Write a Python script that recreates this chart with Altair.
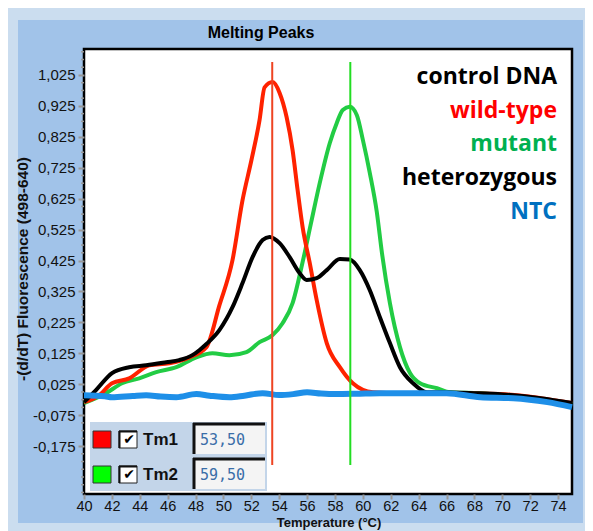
import altair as alt
import pandas as pd
import numpy as np

# ---------------- data ----------------
wt_t = [40.0, 41.08, 42.01, 43.24, 44.68, 46.12, 47.55, 48.78, 49.71, 50.65, 51.37, 52.01, 52.59, 52.95,
        53.53, 54.03, 54.53, 54.96, 55.32, 55.68, 56.19, 56.69, 57.41, 58.35, 59.28, 60.72, 62.66, 66.26,
        69.86, 72.73, 75.0]
wt_v = [-0.033, -0.011, 0.028, 0.044, 0.086, 0.093, 0.112, 0.145, 0.28, 0.426, 0.62, 0.75, 0.879, 0.985,
        1.002, 0.967, 0.889, 0.782, 0.653, 0.533, 0.417, 0.297, 0.158, 0.08, 0.028, -0.001, -0.004, -0.004,
        -0.007, -0.02, -0.036]

mut_t = [40.0, 41.58, 42.73, 43.96, 45.18, 46.62, 48.06, 49.21, 50.43, 51.65, 52.59, 53.53, 54.24, 54.96,
         55.68, 56.3, 56.91, 57.63, 58.13, 58.56, 59.06, 59.57, 60.0, 60.5, 61.0, 61.37, 61.94, 62.66, 63.38,
         64.1, 65.32, 66.26, 68.42, 70.5, 72.73, 75.0]
mut_v = [-0.036, -0.004, 0.028, 0.044, 0.064, 0.08, 0.112, 0.125, 0.119, 0.129, 0.161, 0.184, 0.222, 0.287,
         0.42, 0.55, 0.676, 0.805, 0.87, 0.912, 0.922, 0.895, 0.815, 0.708, 0.582, 0.449, 0.287, 0.145, 0.061,
         0.028, 0.012, -0.001, -0.004, -0.012, -0.022, -0.04]

het_t = [40.0, 40.86, 42.01, 43.24, 44.46, 45.9, 46.83, 47.77, 48.27, 48.78, 49.71, 50.65, 51.37, 52.09,
         52.81, 53.31, 54.03, 54.75, 55.47, 55.97, 56.69, 57.41, 58.35, 59.06, 59.78, 60.5, 61.22, 61.94,
         62.66, 63.6, 64.6, 65.54, 68.0, 70.0, 72.73, 75.0]
het_v = [-0.033, 0.006, 0.061, 0.08, 0.086, 0.096, 0.103, 0.119, 0.135, 0.155, 0.2, 0.274, 0.352, 0.436,
         0.491, 0.501, 0.481, 0.436, 0.384, 0.362, 0.368, 0.394, 0.43, 0.428, 0.394, 0.329, 0.242, 0.158,
         0.08, 0.028, -0.001, -0.001, -0.004, -0.008, -0.02, -0.036]

ntc_t = [40.0, 41.5, 42.0, 43.5, 44.46, 45.5, 46.62, 48.06, 49.0, 50.43, 51.5, 52.81, 54.0, 55.0, 56.0,
         57.0, 58.0, 59.5, 61.22, 63.6, 66.0, 68.42, 70.79, 73.24, 75.0]
ntc_v = [-0.011, -0.014, -0.017, -0.013, -0.011, -0.015, -0.017, -0.007, -0.012, -0.017, -0.012, -0.004,
         -0.01, -0.007, -0.001, -0.005, -0.007, -0.006, -0.004, -0.004, -0.004, -0.017, -0.02, -0.033, -0.049]

tm_names = ["Tm1", "Tm2"]
tm_labels = ["53,50", "59,50"]
tm_lines = [53.5, 59.1]
tm_colors = ["#EE4422", "#22DD22"]
tm_swatch = ["#FF0000", "#00FF00"]

sample_labels = ["control DNA", "wild-type", "mutant", "heterozygous", "NTC"]
sample_colors = ["#000000", "#FF0000", "#00B050", "#000000", "#0070C0"]

x_ticks = list(range(40, 75, 2))
y_ticks = [round(-0.175 + 0.1 * i, 3) for i in range(13)]
y_minor = [round(-0.325 + 0.025 * i, 3) for i in range(58)]
y_minor = [v for v in y_minor if v not in y_ticks and v <= 1.1]

# ---------------- layout ----------------
W, H = 488, 445
xs = alt.Scale(domain=[40, 75], nice=False, zero=False)
ys = alt.Scale(domain=[-0.330, 1.109], nice=False, zero=False)

common_axis = dict(title=None, grid=False, domain=False, tickColor="#999999", tickWidth=2,
                   labelFont="Liberation Sans", labelColor="#111111", zindex=1,
                   labelFlush=False, labelOverlap=False)
xaxis = alt.Axis(values=x_ticks, tickSize=5, labelPadding=0, labelFontSize=14.5, **common_axis)
yaxis = alt.Axis(values=y_ticks, tickSize=6, labelPadding=3, labelFontSize=15,
                 labelExpr="replace(replace(format(datum.value, '.3f'), '.', ','), '\u2212', '-')",
                 **common_axis)

one = pd.DataFrame({"d": [0]})


def prect(x1, x2, y1, y2, **style):
    return alt.Chart(one).mark_rect(**style).encode(
        x=alt.value(x1), x2=alt.value(x2), y=alt.value(y1), y2=alt.value(y2))


def prule(x1, x2, y1, y2, **style):
    return alt.Chart(one).mark_rule(**style).encode(
        x=alt.value(x1), x2=alt.value(x2), y=alt.value(y1), y2=alt.value(y2))


def ptext(txt, x, y, **style):
    return alt.Chart(one).mark_text(text=txt, **style).encode(x=alt.value(x), y=alt.value(y))


layers = []
# inner blue panel and white plotting area
layers.append(prect(-66, 499, -29, 474, color="#A1C3E9"))
layers.append(prect(0, W, 0, H, fill="white", stroke="#000000", strokeWidth=2.5))

# curves
series = [
    (mut_t, mut_v, "#22CC44", 4),
    (wt_t, wt_v, "#FF2200", 4),
    (het_t, het_v, "#000000", 4),
    (ntc_t, ntc_v, "#1E8FE8", 6),
]
for t, v, col, sw in series:
    df = pd.DataFrame({"T": t, "v": v})
    layers.append(
        alt.Chart(df).mark_line(color=col, strokeWidth=sw, interpolate="monotone").encode(
            x=alt.X("T:Q", scale=xs, axis=xaxis), y=alt.Y("v:Q", scale=ys, axis=yaxis)))

# Tm vertical lines
for pos, col in zip(tm_lines, tm_colors):
    layers.append(
        alt.Chart(pd.DataFrame({"T": [pos]})).mark_rule(color=col, strokeWidth=2).encode(
            x=alt.X("T:Q", scale=xs, axis=xaxis), y=alt.value(13), y2=alt.value(416)))

# minor y ticks
layers.append(
    alt.Chart(pd.DataFrame({"v": y_minor})).mark_rule(color="#999999", strokeWidth=1.5).encode(
        y=alt.Y("v:Q", scale=ys, axis=yaxis), x=alt.value(-3), x2=alt.value(0)))

# sample labels (top right)
for i, (lab, col) in enumerate(zip(sample_labels, sample_colors)):
    layers.append(ptext(lab, 473, 28 + i * 33.7, align="right", baseline="middle", font="Open Sans",
                        fontWeight="bold", fontSize=23, color=col))

# Tm legend box
layers.append(prect(6, 183, 373, 442, color="#C3D5E9"))
for i, (nm, lab, sw) in enumerate(zip(tm_names, tm_labels, tm_swatch)):
    dy = i * 35
    layers.append(prect(9, 27, 382 + dy, 399 + dy, fill=sw, stroke="#333333", strokeWidth=1))
    layers.append(prect(35, 53, 382 + dy, 399 + dy, fill="white", stroke="#222222", strokeWidth=1))
    layers.append(prule(35, 53, 382.5 + dy, 382.5 + dy, color="#111111", strokeWidth=2))
    layers.append(prule(35.5, 35.5, 382 + dy, 399 + dy, color="#111111", strokeWidth=2))
    layers.append(ptext("\u2714", 45, 391 + dy, align="center", baseline="middle", font="DejaVu Sans",
                        fontSize=14, color="#000000"))
    layers.append(ptext(nm, 59, 391 + dy, align="left", baseline="middle", font="Liberation Sans",
                        fontWeight="bold", fontSize=17, color="#111111"))
    layers.append(prect(109, 181, 374 + dy, 405 + dy, color="#F4F4F4"))
    layers.append(prule(109, 181, 375 + dy, 375 + dy, color="#111111", strokeWidth=3))
    layers.append(prule(110, 110, 374 + dy, 405 + dy, color="#111111", strokeWidth=3))
    layers.append(ptext(lab, 116, 391 + dy, align="left", baseline="middle", font="DejaVu Sans Mono",
                        fontSize=15, color="#3A6EA8"))

# titles
layers.append(ptext("Melting Peaks", 177, -16, align="center", baseline="middle", font="Liberation Sans",
                    fontWeight="bold", fontSize=16, color="#000000"))
layers.append(ptext("-(d/dT) Fluorescence (498-640)", -61, 220, align="center", baseline="middle",
                    angle=270, font="Liberation Sans", fontWeight="bold", fontSize=15.5, color="#111111"))
layers.append(ptext("Temperature (\u00b0C)", 245, 481, align="center", baseline="bottom",
                    font="Liberation Sans", fontWeight="bold", fontSize=13, color="#111111"))

chart = alt.layer(*layers).properties(
    width=W, height=H, autosize="none",
    padding={"left": 76, "top": 41, "right": 13, "bottom": 37},
).configure(background="#CBDDEF").configure_view(strokeWidth=0)

chart.save("out.html", embed_options={"renderer": "svg", "actions": False})
